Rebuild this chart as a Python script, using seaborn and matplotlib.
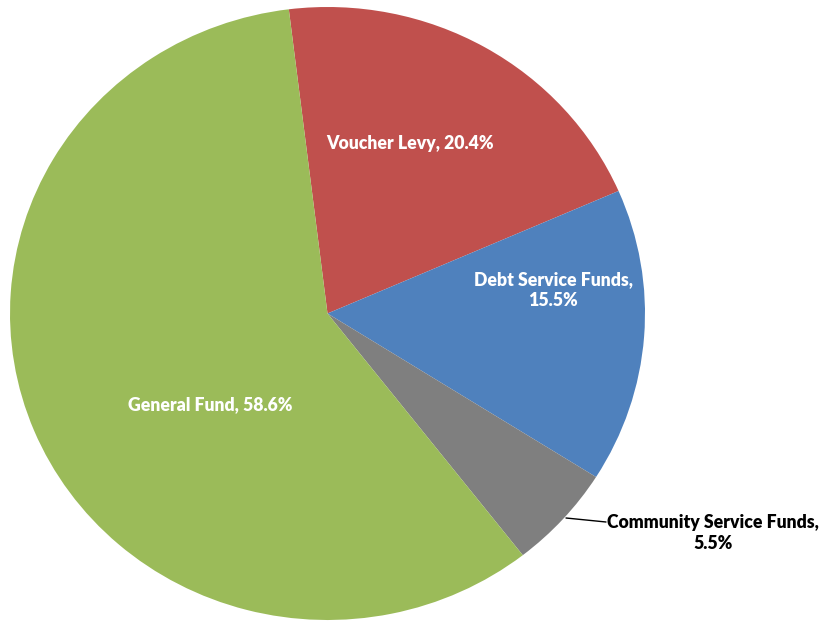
import matplotlib
matplotlib.use("Agg")
import matplotlib.pyplot as plt
import seaborn as sns
import numpy as np

categories = ["Voucher Levy", "Debt Service Funds", "Community Service Funds", "General Fund"]
values = [20.4, 15.5, 5.5, 58.6]
label_texts = ["Voucher Levy, 20.4%", "Debt Service Funds,\n15.5%",
               "Community Service Funds,\n5.5%", "General Fund, 58.6%"]
colors = ["#C0504D", "#4F81BD", "#7F7F7F", "#9BBB59"]

sns.set_style("white")
plt.rcParams['font.family'] = ['Lato', 'DejaVu Sans']

W, H = 832, 622
fig = plt.figure(figsize=(W / 100, H / 100), dpi=100)
ax = fig.add_axes([10 / W, 2 / H, 635 / W, 613 / H])

wedges, _ = ax.pie(values, colors=colors, startangle=97, counterclock=False,
                   radius=1.0, wedgeprops=dict(linewidth=0))
ax.set_aspect('auto')
ax.set_xlim(-1, 1)
ax.set_ylim(-1, 1)
ax.axis('off')

def px(x, y):
    # pixel -> data coords of the axes
    dx = (x - 10) / 635 * 2 - 1
    dy = 1 - (y - 7) / 613 * 2
    return dx, dy

fs = 12.7
pos_inside = {0: (410, 143), 1: (553, 290), 3: (210, 405)}
for i, (x, y) in pos_inside.items():
    ax.text(*px(x, y), label_texts[i], color='white', fontsize=fs, fontweight='heavy',
            ha='center', va='center', linespacing=1.33)

# Community Service Funds label outside with leader line
tx, ty = px(713, 533)
ax.text(tx, ty, label_texts[2], color='black', fontsize=fs, fontweight='heavy',
        ha='center', va='center', linespacing=1.33)
ax.plot([px(566, 518)[0], px(606, 522)[0]], [px(566, 518)[1], px(606, 522)[1]],
        color='black', lw=1, clip_on=False)

fig.savefig("out.png", dpi=100)
